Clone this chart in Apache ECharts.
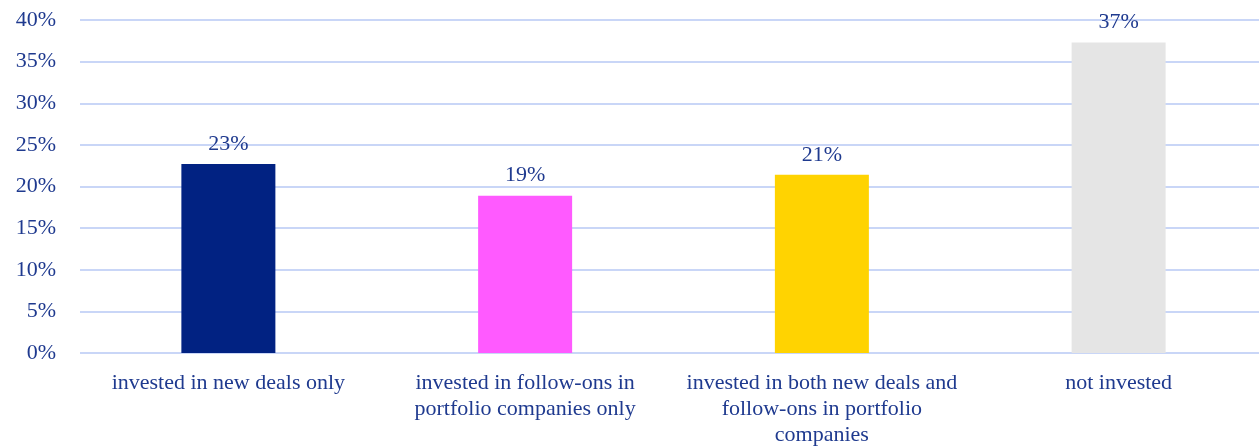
<!DOCTYPE html>
<html>
<head>
<meta charset="utf-8">
<script src="https://cdn.jsdelivr.net/npm/echarts@6/dist/echarts.min.js"></script>
<style>
  html, body { margin: 0; padding: 0; background: #fff; }
  #chart { width: 1259px; height: 446px; }
</style>
</head>
<body>
<div id="chart"></div>
<script>
// 分类与数值
const categories = [
    'invested in new deals only',
    'invested in follow-ons in\nportfolio companies only',
    'invested in both new deals and\nfollow-ons in portfolio\ncompanies',
    'not invested'
]
const values = [22.7, 18.9, 21.4, 37.3]
const barColors = ['#012282', '#FF5AFF', '#FFD301', '#E5E5E5']
const yTicks = [0, 5, 10, 15, 20, 25, 30, 35, 40]

const textColor = '#1F3A8F'
const font = 'Liberation Serif, Times New Roman, serif'

const cs = echarts.init(document.getElementById('chart'))
const option = {
    animation: false,
    grid: {
        left: 80,
        right: -8,
        top: 20,
        bottom: 93,
        outerBoundsMode: 'none'
    },
    xAxis: {
        type: 'category',
        data: categories,
        axisLine: { show: false },
        axisTick: { show: false },
        axisLabel: {
            color: textColor,
            fontFamily: font,
            fontSize: 22,
            lineHeight: 26,
            margin: 17,
            interval: 0
        }
    },
    yAxis: {
        type: 'value',
        min: yTicks[0],
        max: yTicks[yTicks.length - 1],
        interval: 5,
        axisLine: { show: false },
        axisTick: { show: false },
        splitLine: { lineStyle: { color: '#C9D6F7', width: 2 } },
        axisLabel: {
            color: textColor,
            fontFamily: font,
            fontSize: 22,
            margin: 24,
            formatter: '{value}%'
        }
    },
    series: [
        {
            type: 'bar',
            barWidth: 94,
            data: values.map((v, i) => ({ value: v, itemStyle: { color: barColors[i] } })),
            label: {
                show: true,
                position: 'top',
                distance: 9,
                color: textColor,
                fontFamily: font,
                fontSize: 22,
                formatter: p => Math.round(p.value) + '%'
            }
        }
    ]
}
cs.setOption(option)
</script>
</body>
</html>
